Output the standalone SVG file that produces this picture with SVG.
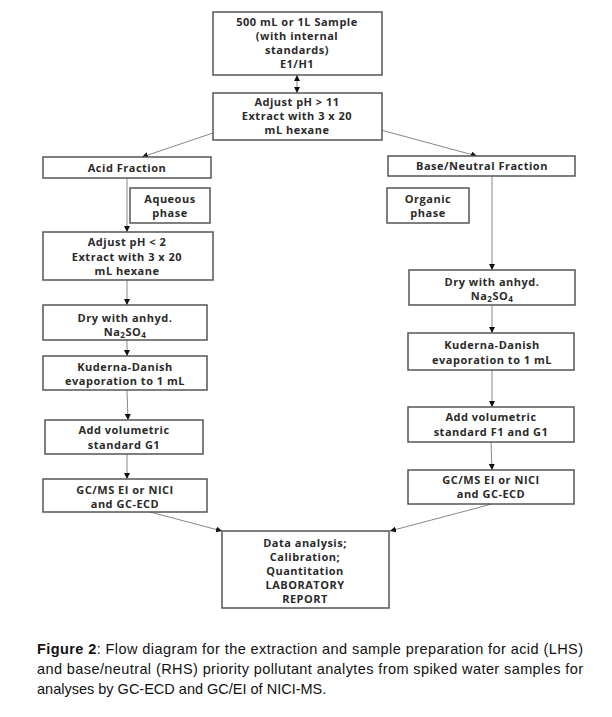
<svg xmlns="http://www.w3.org/2000/svg" width="612" height="717" viewBox="0 0 612 717">
<defs>
<style>
.box{fill:#fff;stroke:#555;stroke-width:1.5}
.t{font-family:"Open Sans",Lato,"Liberation Sans",sans-serif;font-weight:bold;font-size:11px;letter-spacing:0.5px;fill:#2a2a2a;text-anchor:middle}
.c{stroke:#888;stroke-width:1;fill:none}
.cap{font-family:"Liberation Sans",Arial,sans-serif;font-size:14.5px;fill:#111}
</style>
<marker id="ah" viewBox="0 0 10 10" refX="10" refY="5" markerWidth="6" markerHeight="6" orient="auto-start-reverse" markerUnits="userSpaceOnUse">
<path d="M0,0 L10,5 L0,10 z" fill="#111"/>
</marker>
</defs>
<rect width="612" height="717" fill="#fff"/>
<g id="connectors">
<line class="c" x1="297" y1="75" x2="297" y2="93" marker-start="url(#ah)" marker-end="url(#ah)"/>
<line class="c" x1="213" y1="133" x2="142" y2="157" marker-end="url(#ah)"/>
<line class="c" x1="381" y1="130" x2="477" y2="156" marker-end="url(#ah)"/>
<line class="c" x1="127" y1="178" x2="127" y2="232" marker-end="url(#ah)"/>
<line class="c" x1="127" y1="280" x2="127" y2="305" marker-end="url(#ah)"/>
<line class="c" x1="127" y1="340" x2="127" y2="356" marker-end="url(#ah)"/>
<line class="c" x1="127" y1="390" x2="128" y2="420" marker-end="url(#ah)"/>
<line class="c" x1="127" y1="454" x2="127" y2="479" marker-end="url(#ah)"/>
<line class="c" x1="150" y1="512" x2="222" y2="531" marker-end="url(#ah)"/>
<line class="c" x1="492" y1="176" x2="492" y2="270" marker-end="url(#ah)"/>
<line class="c" x1="492" y1="305" x2="492" y2="333" marker-end="url(#ah)"/>
<line class="c" x1="492" y1="370" x2="492" y2="407" marker-end="url(#ah)"/>
<line class="c" x1="491" y1="442" x2="492" y2="470" marker-end="url(#ah)"/>
<line class="c" x1="492" y1="504" x2="390" y2="531" marker-end="url(#ah)"/>
</g>
<g id="sample">
<rect class="box" x="213" y="12" width="169" height="63"/>
<text class="t" x="297" y="26">500 mL or 1L Sample</text>
<text class="t" x="297" y="40">(with internal</text>
<text class="t" x="297" y="54">standards)</text>
<text class="t" x="297" y="68">E1/H1</text>
</g>
<g id="adjust11">
<rect class="box" x="213" y="93" width="169" height="47"/>
<text class="t" x="297" y="106">Adjust pH &gt; 11</text>
<text class="t" x="297" y="120">Extract with 3 x 20</text>
<text class="t" x="297" y="134">mL hexane</text>
</g>
<g id="acid">
<rect class="box" x="43" y="157" width="168" height="21"/>
<text class="t" x="127" y="172">Acid Fraction</text>
</g>
<g id="aqueous">
<rect class="box" x="130" y="188" width="80" height="35"/>
<text class="t" x="170" y="203">Aqueous</text>
<text class="t" x="170" y="217">phase</text>
</g>
<g id="adjust2">
<rect class="box" x="43" y="232" width="170" height="48"/>
<text class="t" x="127" y="246">Adjust pH &lt; 2</text>
<text class="t" x="127" y="261">Extract with 3 x 20</text>
<text class="t" x="127" y="275">mL hexane</text>
</g>
<g id="dryL">
<rect class="box" x="43" y="305" width="164" height="35"/>
<text class="t" x="125" y="322">Dry with anhyd.</text>
<text class="t" x="125" y="336">Na<tspan font-size="8" dy="2">2</tspan><tspan dy="-2">SO</tspan><tspan font-size="8" dy="2">4</tspan></text>
</g>
<g id="kdL">
<rect class="box" x="43" y="356" width="164" height="34"/>
<text class="t" x="125" y="371">Kuderna-Danish</text>
<text class="t" x="125" y="385">evaporation to 1 mL</text>
</g>
<g id="volL">
<rect class="box" x="45" y="420" width="158" height="34"/>
<text class="t" x="124" y="434">Add volumetric</text>
<text class="t" x="124" y="449">standard G1</text>
</g>
<g id="gcL">
<rect class="box" x="43" y="479" width="164" height="33"/>
<text class="t" x="125" y="494">GC/MS EI or NICI</text>
<text class="t" x="125" y="508">and GC-ECD</text>
</g>
<g id="base">
<rect class="box" x="388" y="156" width="187" height="20"/>
<text class="t" x="482" y="170">Base/Neutral Fraction</text>
</g>
<g id="organic">
<rect class="box" x="387" y="188" width="82" height="35"/>
<text class="t" x="428" y="203">Organic</text>
<text class="t" x="428" y="217">phase</text>
</g>
<g id="dryR">
<rect class="box" x="409" y="270" width="166" height="35"/>
<text class="t" x="492" y="286">Dry with anhyd.</text>
<text class="t" x="492" y="300">Na<tspan font-size="8" dy="2">2</tspan><tspan dy="-2">SO</tspan><tspan font-size="8" dy="2">4</tspan></text>
</g>
<g id="kdR">
<rect class="box" x="408" y="333" width="166" height="37"/>
<text class="t" x="492" y="349">Kuderna-Danish</text>
<text class="t" x="492" y="364">evaporation to 1 mL</text>
</g>
<g id="volR">
<rect class="box" x="408" y="407" width="166" height="35"/>
<text class="t" x="491" y="421">Add volumetric</text>
<text class="t" x="491" y="436">standard F1 and G1</text>
</g>
<g id="gcR">
<rect class="box" x="408" y="470" width="166" height="34"/>
<text class="t" x="491" y="484">GC/MS EI or NICI</text>
<text class="t" x="491" y="498">and GC-ECD</text>
</g>
<g id="data">
<rect class="box" x="222" y="531" width="167" height="77"/>
<text class="t" x="305" y="547">Data analysis;</text>
<text class="t" x="305" y="561">Calibration;</text>
<text class="t" x="305" y="575">Quantitation</text>
<text class="t" x="305" y="589">LABORATORY</text>
<text class="t" x="305" y="603">REPORT</text>
</g>
<g id="caption">
<text class="cap" x="37" y="654" textLength="546" lengthAdjust="spacing"><tspan font-weight="bold">Figure 2</tspan>: Flow diagram for the extraction and sample preparation for acid (LHS)</text>
<text class="cap" x="37" y="674" textLength="546" lengthAdjust="spacing">and base/neutral (RHS) priority pollutant analytes from spiked water samples for</text>
<text class="cap" x="37" y="694">analyses by GC-ECD and GC/EI of NICI-MS.</text>
</g>
</svg>
